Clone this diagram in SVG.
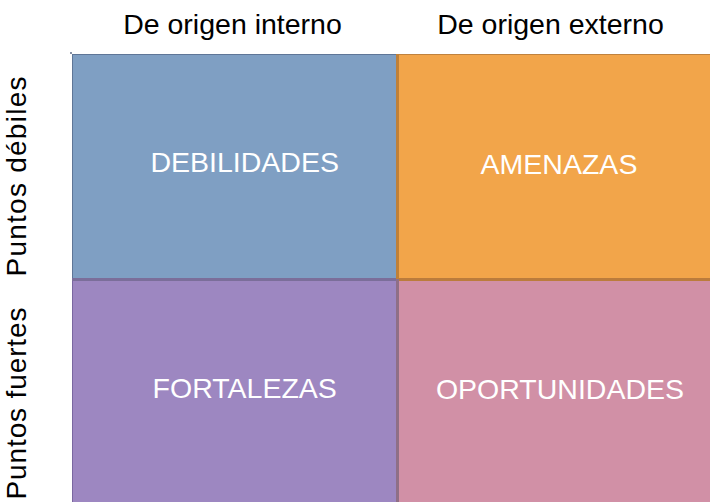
<svg xmlns="http://www.w3.org/2000/svg" width="710" height="502" viewBox="0 0 710 502">
  <style>
    .hdr { font-family: "Liberation Sans", Arial, sans-serif; font-size: 28.5px; fill: #000000; text-anchor: middle; }
    .cell { font-family: "Liberation Sans", Arial, sans-serif; font-size: 28.5px; fill: #ffffff; text-anchor: middle; }
    .side { font-family: "Liberation Sans", Arial, sans-serif; font-size: 28px; fill: #000000; text-anchor: middle; }
  </style>
  <rect x="0" y="0" width="710" height="502" fill="#ffffff"/>
  <g id="headers">
    <text class="hdr" x="232.5" y="34">De origen interno</text>
    <text class="hdr" x="550.5" y="34">De origen externo</text>
  </g>
  <g id="side-labels">
    <text class="side" transform="translate(26,176.5) rotate(-90)" textLength="200" lengthAdjust="spacing">Puntos débiles</text>
    <text class="side" transform="translate(26,403.5) rotate(-90)" textLength="192" lengthAdjust="spacing">Puntos fuertes</text>
  </g>
  <g id="debilidades">
    <rect x="72" y="54" width="325" height="225" fill="#7f9fc3"/>
    <text class="cell" x="244.7" y="172">DEBILIDADES</text>
  </g>
  <g id="amenazas">
    <rect x="397" y="54" width="313" height="225" fill="#f2a54a"/>
    <text class="cell" x="559" y="174">AMENAZAS</text>
  </g>
  <g id="fortalezas">
    <rect x="72" y="279" width="325" height="223" fill="#9d87c1"/>
    <text class="cell" x="244.7" y="398">FORTALEZAS</text>
  </g>
  <g id="oportunidades">
    <rect x="397" y="279" width="313" height="223" fill="#d190a6"/>
    <text class="cell" x="560" y="399">OPORTUNIDADES</text>
  </g>
  <g id="borders" fill="none">
    <line x1="72" y1="54.5" x2="397" y2="54.5" stroke="#5f7697" stroke-width="1"/>
    <line x1="397" y1="54.5" x2="710" y2="54.5" stroke="#c0823e" stroke-width="1"/>
    <line x1="72.5" y1="54" x2="72.5" y2="279" stroke="#5f7697" stroke-width="1"/>
    <line x1="72.5" y1="279" x2="72.5" y2="502" stroke="#7a67a0" stroke-width="1"/>
    <line x1="72" y1="279.5" x2="397" y2="279.5" stroke="#7b6e9a" stroke-width="3"/>
    <line x1="397" y1="279.5" x2="710" y2="279.5" stroke="#bb7c3c" stroke-width="3"/>
    <line x1="397.5" y1="54" x2="397.5" y2="279" stroke="#bf8038" stroke-width="3"/>
    <line x1="397.5" y1="279" x2="397.5" y2="502" stroke="#8f6f86" stroke-width="3"/>
    <rect x="70" y="52" width="2" height="2" fill="#8a94a8" stroke="none"/>
  </g>
</svg>
